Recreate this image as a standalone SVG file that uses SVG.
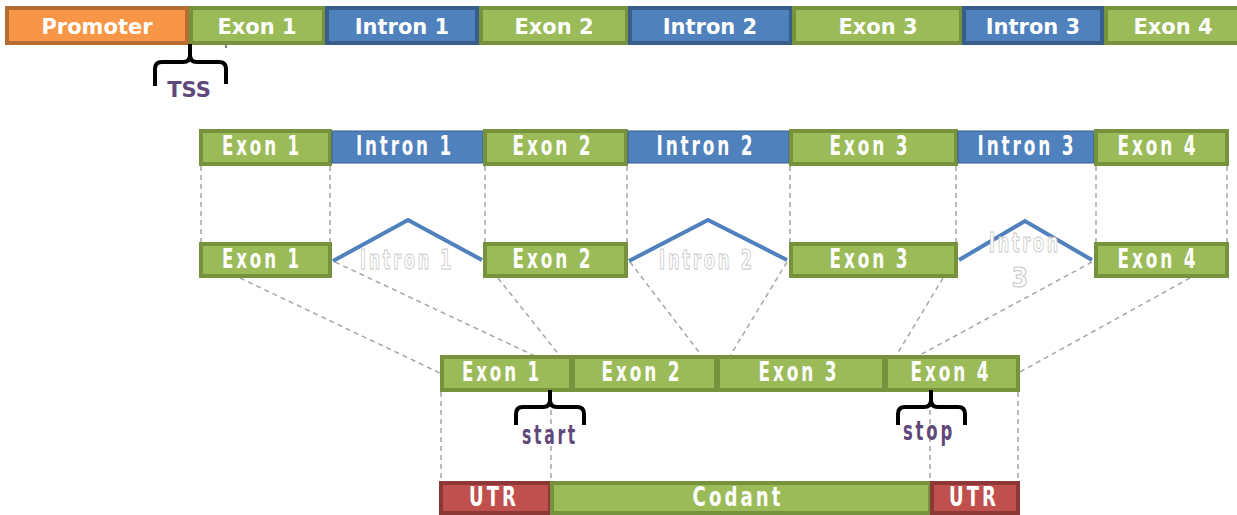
<svg xmlns="http://www.w3.org/2000/svg" width="1237" height="515" viewBox="0 0 1237 515">
<style>
.ex{fill:#9BBB59;stroke:#76923C;stroke-width:4}
.in{fill:#4F81BD;stroke:#385D8A;stroke-width:4}
.in2{fill:#4F81BD;stroke:#385D8A;stroke-width:1}
.pr{fill:#F79646;stroke:#B66D31;stroke-width:4}
.ut{fill:#C0504D;stroke:#8C3836;stroke-width:4}
.t1{font-family:"DejaVu Sans",sans-serif;font-weight:bold;font-size:21px;fill:#fff;text-anchor:middle}
.t2{font-family:"DejaVu Sans Condensed","DejaVu Sans",sans-serif;font-stretch:condensed;font-weight:bold;font-size:26px;fill:#fff;text-anchor:middle;letter-spacing:4px}
.gh{fill:#fff;stroke:#C8C8C8;stroke-width:1}
.pu{fill:#5F497A}
.ts{font-family:"DejaVu Sans",sans-serif;font-weight:bold;font-size:21px;fill:#5F497A;text-anchor:middle}
.da{stroke:#A6A6A6;stroke-width:1.5;stroke-dasharray:5,4;fill:none}
.ch{stroke:#4F81BD;stroke-width:4;fill:none}
.br{stroke:#000;stroke-width:4;fill:none}
</style>
<g id="connectors">
<line class="da" x1="201" y1="166" x2="201" y2="242"/>
<line class="da" x1="330" y1="166" x2="330" y2="242"/>
<line class="da" x1="485" y1="166" x2="485" y2="242"/>
<line class="da" x1="627" y1="166" x2="627" y2="242"/>
<line class="da" x1="790" y1="166" x2="790" y2="242"/>
<line class="da" x1="956" y1="166" x2="956" y2="242"/>
<line class="da" x1="1096" y1="166" x2="1096" y2="242"/>
<line class="da" x1="1227" y1="166" x2="1227" y2="242"/>
<line class="da" x1="240" y1="278" x2="440" y2="373"/>
<line class="da" x1="335" y1="262" x2="535" y2="356"/>
<line class="da" x1="498" y1="278" x2="560" y2="356"/>
<line class="da" x1="630" y1="262" x2="702" y2="356"/>
<line class="da" x1="787" y1="262" x2="730" y2="356"/>
<line class="da" x1="943" y1="278" x2="896" y2="356"/>
<line class="da" x1="1092" y1="262" x2="918" y2="356"/>
<line class="da" x1="1190" y1="278" x2="1020" y2="372"/>
<line class="da" x1="441" y1="392" x2="441" y2="481"/>
<line class="da" x1="551" y1="392" x2="551" y2="481"/>
<line class="da" x1="930" y1="392" x2="930" y2="481"/>
<line class="da" x1="1018" y1="392" x2="1018" y2="481"/>
<polyline class="ch" points="333,261 408,220 482,260"/>
<polyline class="ch" points="629,261 708,220 787,260"/>
<polyline class="ch" points="959,260 1025,221 1092,260"/>
<line x1="226" y1="44" x2="226" y2="48" stroke="#555" stroke-width="1.5"/>
</g>
<g id="row1">
<g id="promoter"><rect class="pr" x="7" y="8" width="180" height="35"/><text class="t1" x="97" y="34">Promoter</text></g>
<g id="g-exon1"><rect class="ex" x="191" y="8" width="133" height="35"/><text class="t1" x="257" y="34">Exon 1</text></g>
<g id="g-intron1"><rect class="in" x="327" y="8" width="150" height="35"/><text class="t1" x="402" y="34">Intron 1</text></g>
<g id="g-exon2"><rect class="ex" x="481" y="8" width="146" height="35"/><text class="t1" x="554" y="34">Exon 2</text></g>
<g id="g-intron2"><rect class="in" x="630" y="8" width="161" height="35"/><text class="t1" x="710" y="34">Intron 2</text></g>
<g id="g-exon3"><rect class="ex" x="794" y="8" width="167" height="35"/><text class="t1" x="878" y="34">Exon 3</text></g>
<g id="g-intron3"><rect class="in" x="964" y="8" width="138" height="35"/><text class="t1" x="1033" y="34">Intron 3</text></g>
<g id="g-exon4"><rect class="ex" x="1106" y="8" width="135" height="35"/><text class="t1" x="1173" y="34">Exon 4</text></g>
</g>
<g id="tss">
<path class="br" d="M190,44 L190,55 Q190,62 183,62 L162,62 Q155,62 155,69 L155,86 M190,55 Q190,62 197,62 L219,62 Q226,62 226,69 L226,84"/>
<text class="ts" x="189" y="97">TSS</text>
</g>
<g id="row2">
<g id="p-exon1"><rect class="ex" x="201" y="131" width="129" height="33"/><text class="t2" x="262" y="155" textLength="80" lengthAdjust="spacingAndGlyphs">Exon 1</text></g>
<g id="p-intron1"><rect class="in2" x="332" y="131" width="151" height="32"/><text class="t2" x="405" y="155" textLength="98" lengthAdjust="spacingAndGlyphs">Intron 1</text></g>
<g id="p-exon2"><rect class="ex" x="485" y="131" width="141" height="33"/><text class="t2" x="553" y="155" textLength="81" lengthAdjust="spacingAndGlyphs">Exon 2</text></g>
<g id="p-intron2"><rect class="in2" x="628" y="131" width="161" height="32"/><text class="t2" x="706" y="155" textLength="99" lengthAdjust="spacingAndGlyphs">Intron 2</text></g>
<g id="p-exon3"><rect class="ex" x="791" y="131" width="165" height="33"/><text class="t2" x="870" y="155" textLength="81" lengthAdjust="spacingAndGlyphs">Exon 3</text></g>
<g id="p-intron3"><rect class="in2" x="958" y="131" width="136" height="32"/><text class="t2" x="1027" y="155" textLength="99" lengthAdjust="spacingAndGlyphs">Intron 3</text></g>
<g id="p-exon4"><rect class="ex" x="1096" y="131" width="131" height="33"/><text class="t2" x="1158" y="155" textLength="81" lengthAdjust="spacingAndGlyphs">Exon 4</text></g>
</g>
<g id="row3">
<g id="s-exon1"><rect class="ex" x="201" y="244" width="129" height="32"/><text class="t2" x="262" y="268" textLength="80" lengthAdjust="spacingAndGlyphs">Exon 1</text></g>
<g id="s-intron1"><text class="t2 gh" x="407" y="269" textLength="94" lengthAdjust="spacingAndGlyphs">Intron 1</text></g>
<g id="s-exon2"><rect class="ex" x="485" y="244" width="141" height="32"/><text class="t2" x="553" y="268" textLength="81" lengthAdjust="spacingAndGlyphs">Exon 2</text></g>
<g id="s-intron2"><text class="t2 gh" x="707" y="269" textLength="96" lengthAdjust="spacingAndGlyphs">Intron 2</text></g>
<g id="s-exon3"><rect class="ex" x="791" y="244" width="165" height="32"/><text class="t2" x="870" y="268" textLength="81" lengthAdjust="spacingAndGlyphs">Exon 3</text></g>
<g id="s-intron3"><text class="t2 gh" x="1025" y="252" textLength="72" lengthAdjust="spacingAndGlyphs">Intron</text><text class="t2 gh" x="1022" y="287">3</text></g>
<g id="s-exon4"><rect class="ex" x="1096" y="244" width="131" height="32"/><text class="t2" x="1158" y="268" textLength="81" lengthAdjust="spacingAndGlyphs">Exon 4</text></g>
</g>
<g id="row4">
<g id="m-exon1"><rect class="ex" x="442" y="357" width="129" height="33"/><text class="t2" x="502" y="381" textLength="80" lengthAdjust="spacingAndGlyphs">Exon 1</text></g>
<g id="m-exon2"><rect class="ex" x="573" y="357" width="143" height="33"/><text class="t2" x="642" y="381" textLength="81" lengthAdjust="spacingAndGlyphs">Exon 2</text></g>
<g id="m-exon3"><rect class="ex" x="718" y="357" width="166" height="33"/><text class="t2" x="799" y="381" textLength="81" lengthAdjust="spacingAndGlyphs">Exon 3</text></g>
<g id="m-exon4"><rect class="ex" x="886" y="357" width="132" height="33"/><text class="t2" x="951" y="381" textLength="81" lengthAdjust="spacingAndGlyphs">Exon 4</text></g>
</g>
<g id="start">
<path class="br" d="M550,390 L550,400 Q550,407 543,407 L523,407 Q516,407 516,414 L516,425 M550,400 Q550,407 557,407 L577,407 Q584,407 584,414 L584,425"/>
<text class="t2 pu" x="550" y="444" textLength="56" lengthAdjust="spacingAndGlyphs">start</text>
</g>
<g id="stop">
<path class="br" d="M931,390 L931,400 Q931,407 924,407 L905,407 Q898,407 898,414 L898,425 M931,400 Q931,407 938,407 L958,407 Q965,407 965,414 L965,425"/>
<text class="t2 pu" x="929" y="440" textLength="52" lengthAdjust="spacingAndGlyphs">stop</text>
</g>
<g id="row5">
<g id="utr5"><rect class="ut" x="441" y="483" width="109" height="30"/><text class="t2" x="494" y="506" textLength="50" lengthAdjust="spacingAndGlyphs">UTR</text></g>
<g id="codant"><rect class="ex" x="552" y="483" width="378" height="30"/><text class="t2" x="738" y="506" textLength="91" lengthAdjust="spacingAndGlyphs">Codant</text></g>
<g id="utr3"><rect class="ut" x="932" y="483" width="86" height="30"/><text class="t2" x="974" y="506" textLength="50" lengthAdjust="spacingAndGlyphs">UTR</text></g>
</g>
</svg>
